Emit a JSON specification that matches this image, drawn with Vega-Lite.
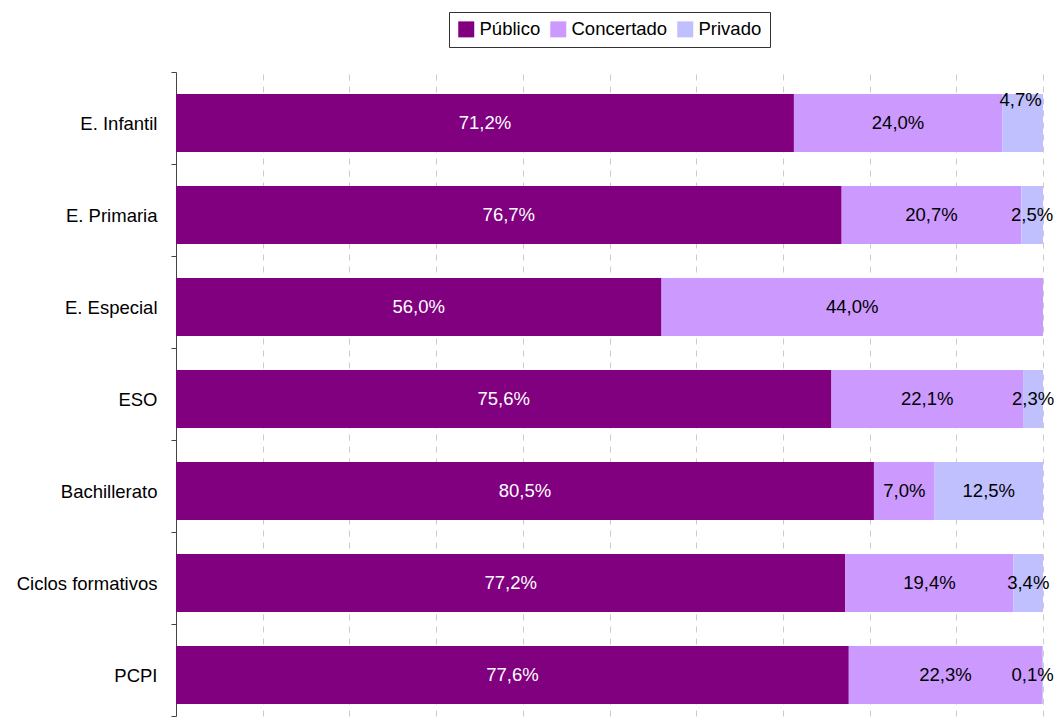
{
  "$schema": "https://vega.github.io/schema/vega-lite/v6.json",
  "width": 867,
  "height": 644,
  "autosize": {"type": "none"},
  "padding": {"left": 176, "top": 72, "right": 13, "bottom": 2},
  "background": "white",
  "config": {
    "view": {"stroke": null},
    "font": "Liberation Sans",
    "legend": {"layout": {"top": {"anchor": "middle"}}}
  },
  "data": {
    "values": [
      {"nivel": "E. Infantil", "tipo": "Público", "orden": 1, "v": 71.2},
      {"nivel": "E. Infantil", "tipo": "Concertado", "orden": 2, "v": 24.0},
      {"nivel": "E. Infantil", "tipo": "Privado", "orden": 3, "v": 4.7},
      {"nivel": "E. Primaria", "tipo": "Público", "orden": 1, "v": 76.7},
      {"nivel": "E. Primaria", "tipo": "Concertado", "orden": 2, "v": 20.7},
      {"nivel": "E. Primaria", "tipo": "Privado", "orden": 3, "v": 2.5},
      {"nivel": "E. Especial", "tipo": "Público", "orden": 1, "v": 56.0},
      {"nivel": "E. Especial", "tipo": "Concertado", "orden": 2, "v": 44.0},
      {"nivel": "E. Especial", "tipo": "Privado", "orden": 3, "v": 0},
      {"nivel": "ESO", "tipo": "Público", "orden": 1, "v": 75.6},
      {"nivel": "ESO", "tipo": "Concertado", "orden": 2, "v": 22.1},
      {"nivel": "ESO", "tipo": "Privado", "orden": 3, "v": 2.3},
      {"nivel": "Bachillerato", "tipo": "Público", "orden": 1, "v": 80.5},
      {"nivel": "Bachillerato", "tipo": "Concertado", "orden": 2, "v": 7.0},
      {"nivel": "Bachillerato", "tipo": "Privado", "orden": 3, "v": 12.5},
      {"nivel": "Ciclos formativos", "tipo": "Público", "orden": 1, "v": 77.2},
      {"nivel": "Ciclos formativos", "tipo": "Concertado", "orden": 2, "v": 19.4},
      {"nivel": "Ciclos formativos", "tipo": "Privado", "orden": 3, "v": 3.4},
      {"nivel": "PCPI", "tipo": "Público", "orden": 1, "v": 77.6},
      {"nivel": "PCPI", "tipo": "Concertado", "orden": 2, "v": 22.3},
      {"nivel": "PCPI", "tipo": "Privado", "orden": 3, "v": 0.1}
    ]
  },
  "transform": [
    {"stack": "v", "groupby": ["nivel"], "sort": [{"field": "orden"}], "offset": "normalize", "as": ["x0", "x1"]},
    {"calculate": "(datum.x0 + datum.x1) / 2", "as": "xm"},
    {"calculate": "replace(format(datum.v, '.1f'), '.', ',') + '%'", "as": "lbl"}
  ],
  "encoding": {
    "y": {
      "field": "nivel",
      "type": "nominal",
      "sort": ["E. Infantil", "E. Primaria", "E. Especial", "ESO", "Bachillerato", "Ciclos formativos", "PCPI"],
      "scale": {"paddingInner": 0, "paddingOuter": 0},
      "axis": {
        "title": null,
        "tickBand": "extent",
        "domainColor": "#444444",
        "tickColor": "#444444",
        "tickSize": 5,
        "labelFontSize": 18.5,
        "labelColor": "#000000",
        "labelPadding": 14,
        "labelOffset": 5
      }
    }
  },
  "layer": [
    {
      "mark": {"type": "bar", "height": {"band": 0.63}, "yOffset": 5},
      "encoding": {
        "x": {
          "field": "x0",
          "type": "quantitative",
          "scale": {"domain": [0, 1], "nice": false},
          "axis": {
            "title": null,
            "labels": false,
            "ticks": false,
            "domain": false,
            "grid": true,
            "values": [0.1, 0.2, 0.3, 0.4, 0.5, 0.6, 0.7, 0.8, 0.9, 1.0],
            "gridColor": "#cccccc",
            "gridDash": [6, 6],
            "gridWidth": 1
          }
        },
        "x2": {"field": "x1"},
        "color": {
          "field": "tipo",
          "type": "nominal",
          "sort": ["Público", "Concertado", "Privado"],
          "scale": {"domain": ["Público", "Concertado", "Privado"], "range": ["#800080", "#cc99ff", "#c0c0ff"]},
          "legend": {
            "title": null,
            "orient": "top",
            "direction": "horizontal",
            "offset": 25,
            "symbolType": "square",
            "symbolSize": 256,
            "symbolStrokeWidth": 0,
            "symbolOpacity": 1,
            "labelFontSize": 18.5,
            "labelColor": "#000000",
            "strokeColor": "#333333",
            "padding": 8,
            "columnPadding": 8,
            "labelOffset": 4
          }
        }
      }
    },
    {
      "transform": [{"filter": "datum.v >= 1 && !(datum.nivel === 'E. Infantil' && datum.tipo === 'Privado')"}],
      "mark": {"type": "text", "fontSize": 18.5, "baseline": "middle", "align": "center", "yOffset": 5},
      "encoding": {
        "x": {"field": "xm", "type": "quantitative"},
        "text": {"field": "lbl"},
        "color": {
          "condition": {"test": "datum.tipo === 'Público'", "value": "white"},
          "value": "black"
        }
      }
    },
    {
      "transform": [{"filter": "datum.v > 0 && datum.v < 1"}],
      "mark": {"type": "text", "fontSize": 18.5, "baseline": "middle", "align": "center", "yOffset": 5, "dx": -10, "color": "black"},
      "encoding": {
        "x": {"field": "xm", "type": "quantitative"},
        "text": {"field": "lbl"}
      }
    },
    {
      "transform": [{"filter": "datum.nivel === 'E. Infantil' && datum.tipo === 'Privado'"}],
      "mark": {"type": "text", "fontSize": 18.5, "baseline": "middle", "align": "center", "yOffset": -18, "dx": -2, "color": "black"},
      "encoding": {
        "x": {"field": "xm", "type": "quantitative"},
        "text": {"field": "lbl"}
      }
    }
  ]
}
